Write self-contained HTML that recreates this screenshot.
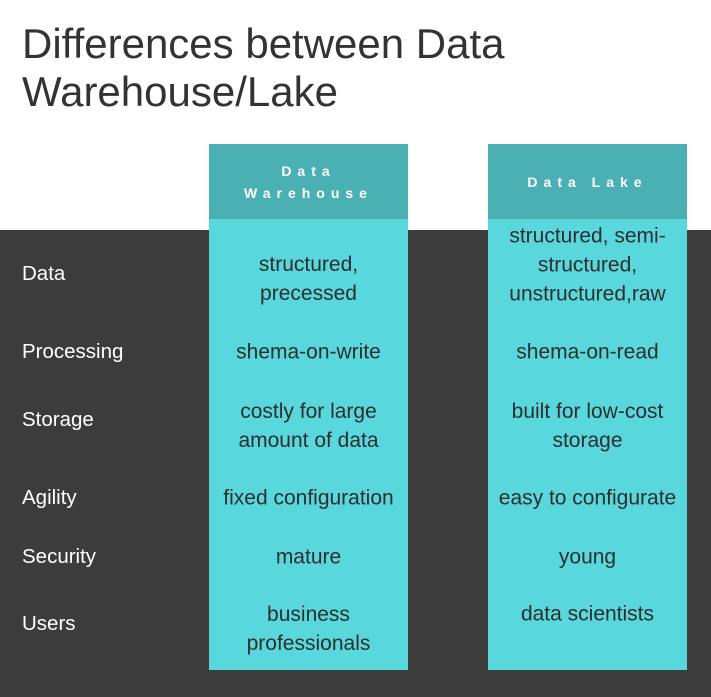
<!DOCTYPE html>
<html><head><style>
body{margin:0;width:711px;height:697px;position:relative;overflow:hidden;background:#fff;font-family:"Liberation Sans",sans-serif}
.dark{position:absolute;left:0;top:230px;width:711px;height:467px;background:#3c3c3c}
.title{position:absolute;left:22px;top:20px;font-size:42px;line-height:48px;color:#333;font-weight:300}
.col{position:absolute;top:144px;width:199px;height:526px;background:#58d8dc}
.hd{position:absolute;left:0;top:0;width:100%;height:75px;background:#4bb0b4;color:#fff;font-weight:bold;font-size:14px;letter-spacing:6px;text-align:center;display:flex;align-items:center;justify-content:center;line-height:22px}
.c{position:absolute;left:-10px;width:219px;text-align:center;color:#2e2e2e;font-size:21px;line-height:29px;transform:translateY(-50%)}
.l{position:absolute;left:22px;color:#fff;font-size:20.5px;transform:translateY(-50%)}
</style></head><body>
<div class="title">Differences between Data<br>Warehouse/Lake</div>
<div class="dark"></div>
<div class="l" style="top:274px">Data</div>
<div class="l" style="top:352px">Processing</div>
<div class="l" style="top:420px">Storage</div>
<div class="l" style="top:498px">Agility</div>
<div class="l" style="top:557px">Security</div>
<div class="l" style="top:624px">Users</div>
<div class="col" style="left:209px">
<div class="hd">Data<br>Warehouse</div>
<div class="c" style="top:135px">structured,<br>precessed</div>
<div class="c" style="top:208px">shema-on-write</div>
<div class="c" style="top:282px">costly for large<br>amount of data</div>
<div class="c" style="top:354px">fixed configuration</div>
<div class="c" style="top:413px">mature</div>
<div class="c" style="top:485px">business<br>professionals</div>
</div>
<div class="col" style="left:488px">
<div class="hd">Data Lake</div>
<div class="c" style="top:121px">structured, semi-<br>structured,<br>unstructured,raw</div>
<div class="c" style="top:208px">shema-on-read</div>
<div class="c" style="top:282px">built for low-cost<br>storage</div>
<div class="c" style="top:354px">easy to configurate</div>
<div class="c" style="top:413px">young</div>
<div class="c" style="top:470px">data scientists</div>
</div>
</body></html>
